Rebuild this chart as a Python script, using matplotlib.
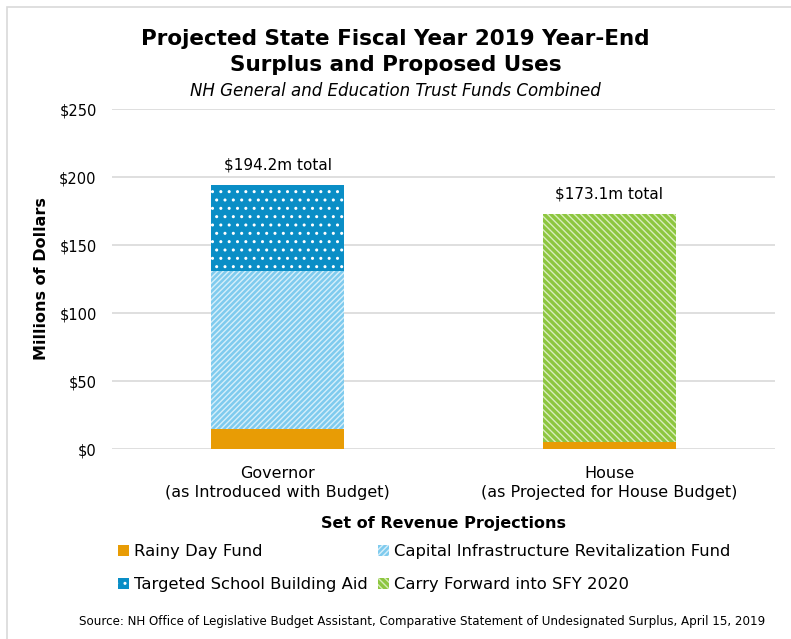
import matplotlib
matplotlib.use("Agg")
import matplotlib.pyplot as plt
from matplotlib.patches import Rectangle
import matplotlib.ticker as mticker

# surplus uses by revenue projection set, millions of dollars
scenarios = ["Governor\n(as Introduced with Budget)", "House\n(as Projected for House Budget)"]
rainy_day = [14.7, 5.0]
capital_infra = [116.3, 0.0]
school_aid = [63.2, 0.0]
carry_forward = [0.0, 168.1]
totals = [194.2, 173.1]
yticks = [0, 50, 100, 150, 200, 250]

ORANGE = "#E89C05"
LIGHT_BLUE = "#7FCBEE"
DARK_BLUE = "#0A8EC6"
GREEN = "#8DC63F"
GRID = "#D9D9D9"

plt.rcParams.update({
    "font.family": "DejaVu Sans",
    "font.size": 11,
    "hatch.linewidth": 1.0,
})

fig = plt.figure(figsize=(7.91, 6.39), dpi=100)
ax = fig.add_axes([112 / 791, 1 - 449 / 639, 663 / 791, 340 / 639])

x = list(range(len(scenarios)))
w = 0.4

b1 = ax.bar(x, rainy_day, w, color=ORANGE, linewidth=0, label="Rainy Day Fund", zorder=3)
b2 = ax.bar(x, capital_infra, w, bottom=rainy_day, facecolor=LIGHT_BLUE, edgecolor="#D6EFFA",
            hatch="//////", linewidth=0, label="Capital Infrastructure Revitalization Fund", zorder=3)
base3 = [a + b for a, b in zip(rainy_day, capital_infra)]
b3 = ax.bar(x, school_aid, w, bottom=base3, facecolor=DARK_BLUE, edgecolor="white",
            hatch="..", linewidth=0, label="Targeted School Building Aid", zorder=3)
base4 = [a + b for a, b in zip(base3, school_aid)]
b4 = ax.bar(x, carry_forward, w, bottom=base4, facecolor=GREEN, edgecolor="#D8EDBC",
            hatch="\\\\\\\\\\", linewidth=0, label="Carry Forward into SFY 2020", zorder=3)

# total labels above each stack
for xi, t in zip(x, totals):
    ax.annotate(f"${t:.1f}m total", (xi, t), xytext=(0, 9), textcoords="offset points",
                ha="center", va="bottom", fontsize=11)

ax.set_xlim(-0.5, 1.5)
ax.set_ylim(0, 250)
ax.set_yticks(yticks)
ax.yaxis.set_major_formatter(mticker.FuncFormatter(lambda v, p: f"${v:.0f}"))
ax.set_xticks(x)
ax.set_xticklabels(scenarios, fontsize=11.5, linespacing=1.4)
ax.tick_params(length=0)
ax.tick_params(axis="y", pad=11, labelsize=10.5)
ax.tick_params(axis="x", pad=12)
ax.grid(axis="y", color=GRID, linewidth=1.2, zorder=0)
for s in ax.spines.values():
    s.set_visible(False)

ax.set_ylabel("Millions of Dollars", fontsize=11.5, fontweight="bold", labelpad=7)
ax.set_xlabel("Set of Revenue Projections", fontsize=11.5, fontweight="bold", labelpad=11)

fig.text(0.5, 1 - 39 / 639, "Projected State Fiscal Year 2019 Year-End", ha="center", va="center",
         fontsize=15.5, fontweight="bold")
fig.text(0.5, 1 - 65 / 639, "Surplus and Proposed Uses", ha="center", va="center",
         fontsize=15.5, fontweight="bold")
fig.text(0.5, 1 - 91 / 639, "NH General and Education Trust Funds Combined", ha="center", va="center",
         fontsize=12, style="italic")

leg = fig.legend(handles=[b1, b3, b2, b4],
                 labels=["Rainy Day Fund", "Targeted School Building Aid",
                         "Capital Infrastructure Revitalization Fund", "Carry Forward into SFY 2020"],
                 ncol=2, loc="upper left", bbox_to_anchor=(118 / 791, 1 - 544 / 639),
                 frameon=False, handlelength=0.7, handleheight=0.7, handletextpad=0.3,
                 columnspacing=0.6, labelspacing=1.1, fontsize=11.8, borderaxespad=0, borderpad=0)

fig.text(422 / 791, 1 - 621 / 639,
         "Source: NH Office of Legislative Budget Assistant, Comparative Statement of Undesignated Surplus, April 15, 2019",
         ha="center", va="center", fontsize=8.6)

# thin border around the chart area
fig.patches.append(Rectangle((7 / 791, -0.05), 1.0, 1.05 - 7 / 639, transform=fig.transFigure,
                             fill=False, edgecolor=GRID, linewidth=1.2))

fig.savefig("out.png", dpi=100)
